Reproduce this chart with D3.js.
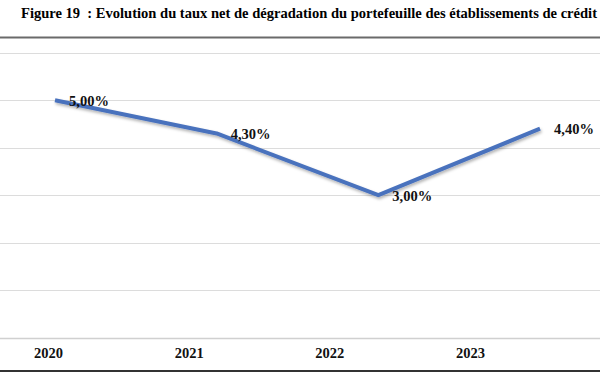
<!DOCTYPE html>
<html><head><meta charset="utf-8">
<script src="https://cdn.jsdelivr.net/npm/d3@7"></script>
<style>html,body{margin:0;padding:0;background:#fff;overflow:hidden}</style>
</head><body>
<script>
const title = "Figure 19  : Evolution du taux net de dégradation du portefeuille des établissements de crédit";
const years = ["2020", "2021", "2022", "2023"];
const rates = [5.00, 4.30, 3.00, 4.40];
const rateLabels = ["5,00%", "4,30%", "3,00%", "4,40%"];
const gridTicks = [0, 1, 2, 3, 4, 5, 6];

const W = 600, H = 372;
const svg = d3.select("body").append("svg").attr("width", W).attr("height", H);
const font = "'Liberation Serif', 'Times New Roman', serif";

const defs = svg.append("defs");
const f = defs.append("filter").attr("id", "sh").attr("x", "-10%").attr("y", "-50%").attr("width", "120%").attr("height", "200%");
f.append("feDropShadow").attr("dx", 1).attr("dy", 2).attr("stdDeviation", 1.6).attr("flood-color", "#000").attr("flood-opacity", 0.3);

// title
svg.append("text").attr("x", 21).attr("y", 17.5)
  .style("white-space", "pre")
  .attr("font-family", font).attr("font-weight", "bold").attr("font-size", 14.5)
  .attr("textLength", 576).attr("lengthAdjust", "spacingAndGlyphs")
  .attr("fill", "#000").text(title);

// frame lines
svg.append("line").attr("x1", 0).attr("x2", W).attr("y1", 37.5).attr("y2", 37.5)
  .attr("stroke", "#6a6a6a").attr("stroke-width", 2);
svg.append("line").attr("x1", 0).attr("x2", W).attr("y1", 371).attr("y2", 371)
  .attr("stroke", "#333").attr("stroke-width", 2);

const y = d3.scaleLinear().domain([0, 6]).range([337.5, 52.8]);
const x = d3.scalePoint().domain(years).range([55, 540]);
const xLab = d3.scalePoint().domain(years).range([48.5, 470.5]);

// gridlines
svg.append("g").selectAll("line").data(gridTicks).join("line")
  .attr("x1", 0).attr("x2", W)
  .attr("y1", d => Math.round(y(d)) + 0.5).attr("y2", d => Math.round(y(d)) + 0.5)
  .attr("stroke", d => d === 0 ? "#d0d0d0" : "#dcdcdc").attr("stroke-width", d => d === 0 ? 1.5 : 1);

// x labels
svg.append("g").selectAll("text").data(years).join("text")
  .attr("x", d => xLab(d)).attr("y", 358)
  .attr("text-anchor", "middle")
  .attr("font-family", font).attr("font-weight", "bold").attr("font-size", 14.5)
  .attr("fill", "#111").text(d => d);

// line
const pts = years.map((d, i) => [x(d), y(rates[i])]);
svg.append("path").attr("d", d3.line()(pts))
  .attr("fill", "none").attr("stroke", "#4a72bd").attr("stroke-width", 4)
  .attr("stroke-linejoin", "round").attr("filter", "url(#sh)");

// data labels
svg.append("g").selectAll("text").data(years).join("text")
  .attr("x", (d, i) => x(d) + 14).attr("y", (d, i) => y(rates[i]) + 5.5)
  .attr("font-family", font).attr("font-weight", "bold").attr("font-size", 14.5)
  .attr("fill", "#111").text((d, i) => rateLabels[i]);
</script>
</body></html>
